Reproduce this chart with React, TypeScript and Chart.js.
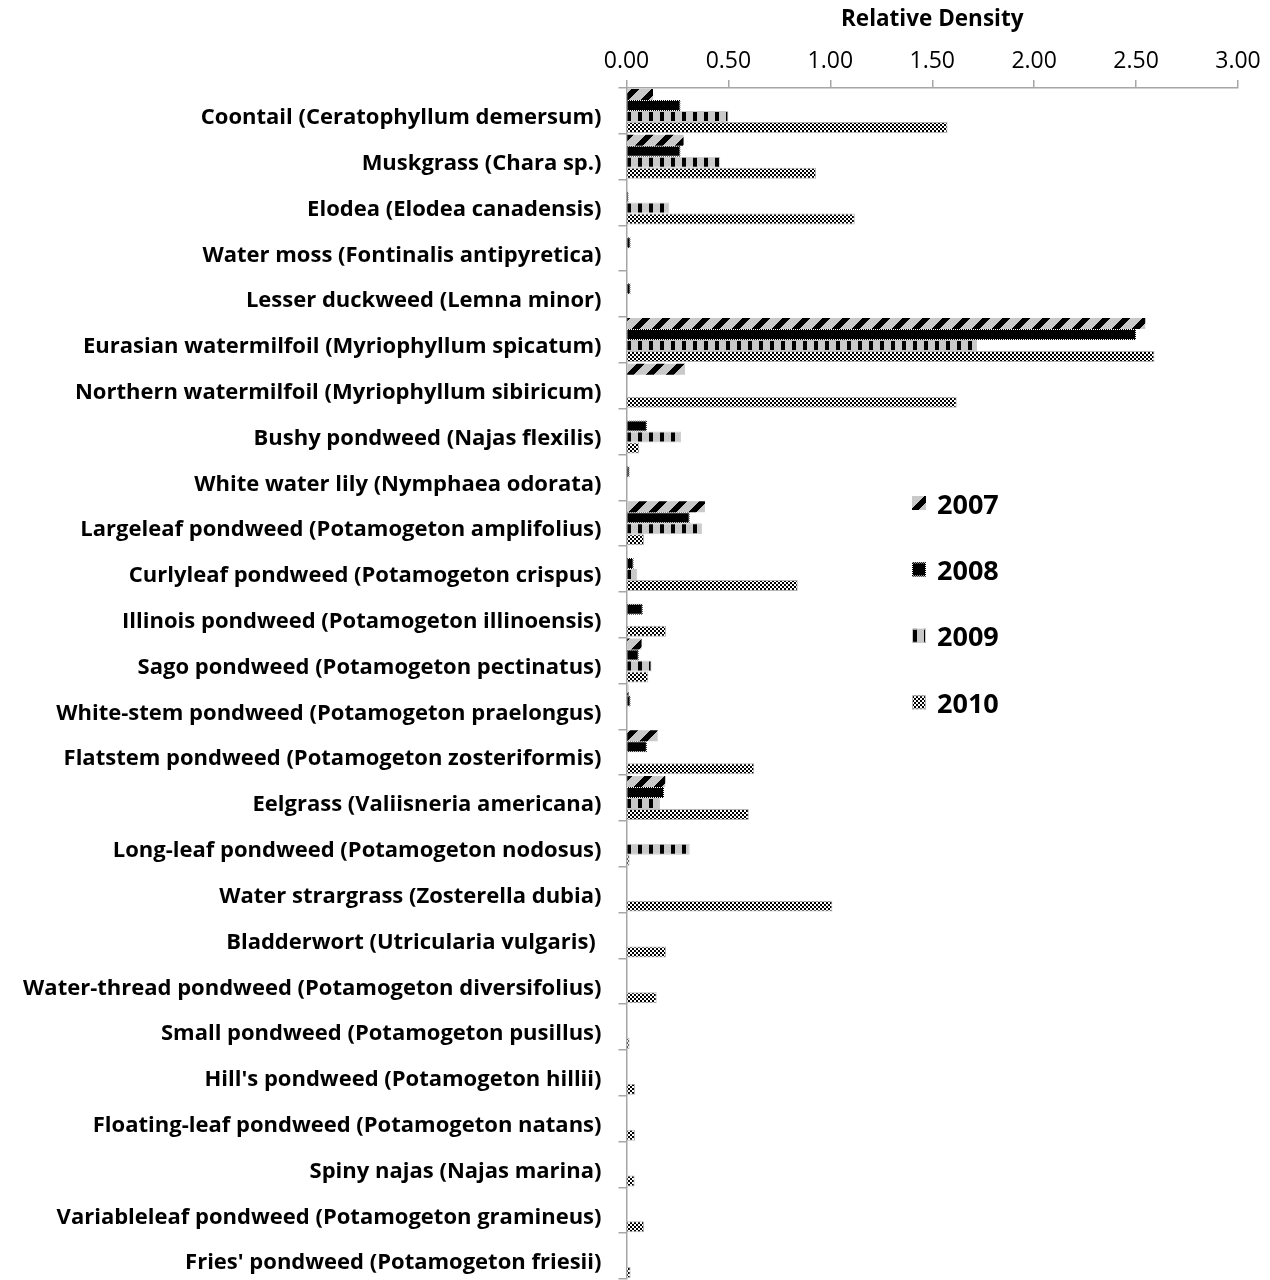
import React, { useEffect, useRef } from "react";
import { Chart, registerables } from "chart.js";

Chart.register(...registerables);

const categories: string[] = [
  "Coontail (Ceratophyllum demersum)",
  "Muskgrass (Chara sp.)",
  "Elodea (Elodea canadensis)",
  "Water moss (Fontinalis antipyretica)",
  "Lesser duckweed (Lemna minor)",
  "Eurasian watermilfoil (Myriophyllum spicatum)",
  "Northern watermilfoil (Myriophyllum sibiricum)",
  "Bushy pondweed (Najas flexilis)",
  "White water lily (Nymphaea odorata)",
  "Largeleaf pondweed (Potamogeton amplifolius)",
  "Curlyleaf pondweed (Potamogeton crispus)",
  "Illinois pondweed (Potamogeton illinoensis)",
  "Sago pondweed (Potamogeton pectinatus)",
  "White-stem pondweed (Potamogeton praelongus)",
  "Flatstem pondweed (Potamogeton zosteriformis)",
  "Eelgrass (Valiisneria americana)",
  "Long-leaf pondweed (Potamogeton nodosus)",
  "Water strargrass (Zosterella dubia)",
  "Bladderwort (Utricularia vulgaris) ",
  "Water-thread pondweed (Potamogeton diversifolius)",
  "Small pondweed (Potamogeton pusillus)",
  "Hill's pondweed (Potamogeton hillii)",
  "Floating-leaf pondweed (Potamogeton natans)",
  "Spiny najas (Najas marina)",
  "Variableleaf pondweed (Potamogeton gramineus)",
  "Fries' pondweed (Potamogeton friesii)",
];

const seriesNames: string[] = ["2007", "2008", "2009", "2010"];

const values2007: (number | null)[] = [
  0.13, 0.28, null, null, null, 2.545, 0.287, null, null, 0.385, null, null, 0.074,
  0.01, 0.153, 0.19, null, null, null, null, null, null, null, null, null, null,
];
const values2008: (number | null)[] = [
  0.265, 0.265, 0.01, 0.02, 0.02, 2.5, null, 0.1, 0.015, 0.31, 0.035, 0.08, 0.06,
  0.02, 0.1, 0.184, null, null, null, null, null, null, null, null, null, null,
];
const values2009: (number | null)[] = [
  0.5, 0.46, 0.21, null, null, 1.72, null, 0.267, null, 0.37, 0.053, null, 0.123,
  null, null, 0.164, 0.31, null, null, null, null, null, null, null, null, null,
];
const values2010: (number | null)[] = [
  1.575, 0.93, 1.12, null, null, 2.59, 1.62, 0.063, null, 0.086, 0.84, 0.194, 0.107,
  null, 0.627, 0.6, 0.015, 1.01, 0.194, 0.148, 0.015, 0.042, 0.042, 0.04, 0.086, 0.02,
];

const xTickValues: number[] = [0, 0.5, 1, 1.5, 2, 2.5, 3];

const GRAY = "#c9c9c9";
const AXIS = "#a6a6a6";
const FONT = "'Open Sans'";

function makeTile(w: number, h: number, fn: (x: number, y: number) => string): HTMLCanvasElement {
  const c = document.createElement("canvas");
  c.width = w;
  c.height = h;
  const g = c.getContext("2d")!;
  for (let y = 0; y < h; y++) {
    for (let x = 0; x < w; x++) {
      g.fillStyle = fn(x, y);
      g.fillRect(x, y, 1, 1);
    }
  }
  return c;
}

export default function App() {
  const ref = useRef<HTMLCanvasElement | null>(null);

  useEffect(() => {
    const canvas = ref.current!;
    const ctx = canvas.getContext("2d")!;

    const t2007 = makeTile(20, 20, (x, y) => ((x + y) % 20 < 8 ? "#000000" : GRAY));
    const t2008 = makeTile(4, 4, () => "#000000");
    const t2008b = makeTile(2, 2, (x, y) => ((x + y) % 2 === 0 ? "#ffffff" : "#000000"));
    const t2009 = makeTile(11, 11, (x) => (x < 4 ? "#000000" : GRAY));
    const t2010 = makeTile(4, 4, (x, y) =>
      (Math.floor(x / 2) + Math.floor(y / 2)) % 2 === 0 ? "#000000" : "#ffffff"
    );
    const p2007 = ctx.createPattern(t2007, "repeat")!;
    const p2008 = ctx.createPattern(t2008, "repeat")!;
    const p2008b = ctx.createPattern(t2008b, "repeat")!;
    const p2009 = ctx.createPattern(t2009, "repeat")!;
    const p2010 = ctx.createPattern(t2010, "repeat")!;

    const fills = [p2007, p2008, p2009, p2010];
    const borders: any[] = ["rgba(0,0,0,0)", p2008b, GRAY, "#b5b5b5"];
    const borderWidths = [0, 1, 1, 1];
    const seriesValues = [values2007, values2008, values2009, values2010];

    const legendPlugin = {
      id: "customLegend",
      afterDraw(chart: any) {
        const c = chart.ctx as CanvasRenderingContext2D;
        c.save();
        seriesNames.forEach((name, i) => {
          const cy = 503 + i * 66.4;
          c.fillStyle = fills[i];
          c.fillRect(912, cy - 7, 14, 14);
          if (borderWidths[i] > 0) {
            c.strokeStyle = borders[i];
            c.lineWidth = 1;
            c.strokeRect(912.5, cy - 6.5, 13, 13);
          }
          c.fillStyle = "#000000";
          c.font = `bold 27px ${FONT}`;
          c.textBaseline = "middle";
          c.textAlign = "left";
          c.fillText(name, 937, cy + 3);
        });
        c.restore();
      },
    };

    const chart = new Chart(canvas, {
      type: "bar",
      data: {
        labels: categories,
        datasets: seriesNames.map((name, i) => ({
          label: name,
          data: seriesValues[i],
          backgroundColor: fills[i],
          borderColor: borders[i],
          borderWidth: borderWidths[i],
          categoryPercentage: 0.96,
          barPercentage: 1.0,
        })),
      },
      options: {
        indexAxis: "y",
        responsive: false,
        animation: false,
        devicePixelRatio: 1,
        layout: { padding: { left: 0, top: 0, right: 32, bottom: 1 } },
        plugins: {
          legend: { display: false },
          tooltip: { enabled: false },
        },
        scales: {
          x: {
            type: "linear",
            position: "top",
            min: 0,
            max: 3,
            afterBuildTicks(scale: any) {
              scale.ticks = xTickValues.map((v) => ({ value: v }));
            },
            afterFit(scale: any) {
              scale.height = 88;
            },
            ticks: {
              callback: (v: any) => Number(v).toFixed(2),
              font: { family: FONT, size: 23 },
              color: "#000000",
              padding: 5,
              maxRotation: 0,
            },
            grid: {
              drawOnChartArea: false,
              drawTicks: true,
              tickLength: 8,
              color: AXIS,
              lineWidth: 1.5,
            },
            border: { display: true, color: AXIS, width: 1.5 },
            title: {
              display: true,
              text: "Relative Density",
              color: "#000000",
              font: { family: FONT, size: 22.5, weight: "bold" },
              padding: { top: 6, bottom: 0 },
            },
          },
          y: {
            type: "category",
            afterFit(scale: any) {
              scale.width = 626.5;
              scale.paddingTop = 0;
              scale.paddingBottom = 0;
            },
            ticks: {
              font: { family: FONT, size: 22, weight: "bold" },
              color: "#000000",
              padding: 17,
              autoSkip: false,
              labelOffset: 7,
            },
            grid: {
              offset: true,
              drawOnChartArea: false,
              drawTicks: true,
              tickLength: 8,
              color: AXIS,
              lineWidth: 1.5,
            },
            border: { display: true, color: AXIS, width: 1.5 },
          },
        },
      },
      plugins: [legendPlugin],
    } as any);

    return () => {
      chart.destroy();
    };
  }, []);

  return (
    <div style={{ position: "fixed", top: 0, left: 0, width: 1270, height: 1280, background: "#ffffff" }}>
      <canvas ref={ref} width={1270} height={1280} style={{ display: "block", width: 1270, height: 1280 }} />
    </div>
  );
}
